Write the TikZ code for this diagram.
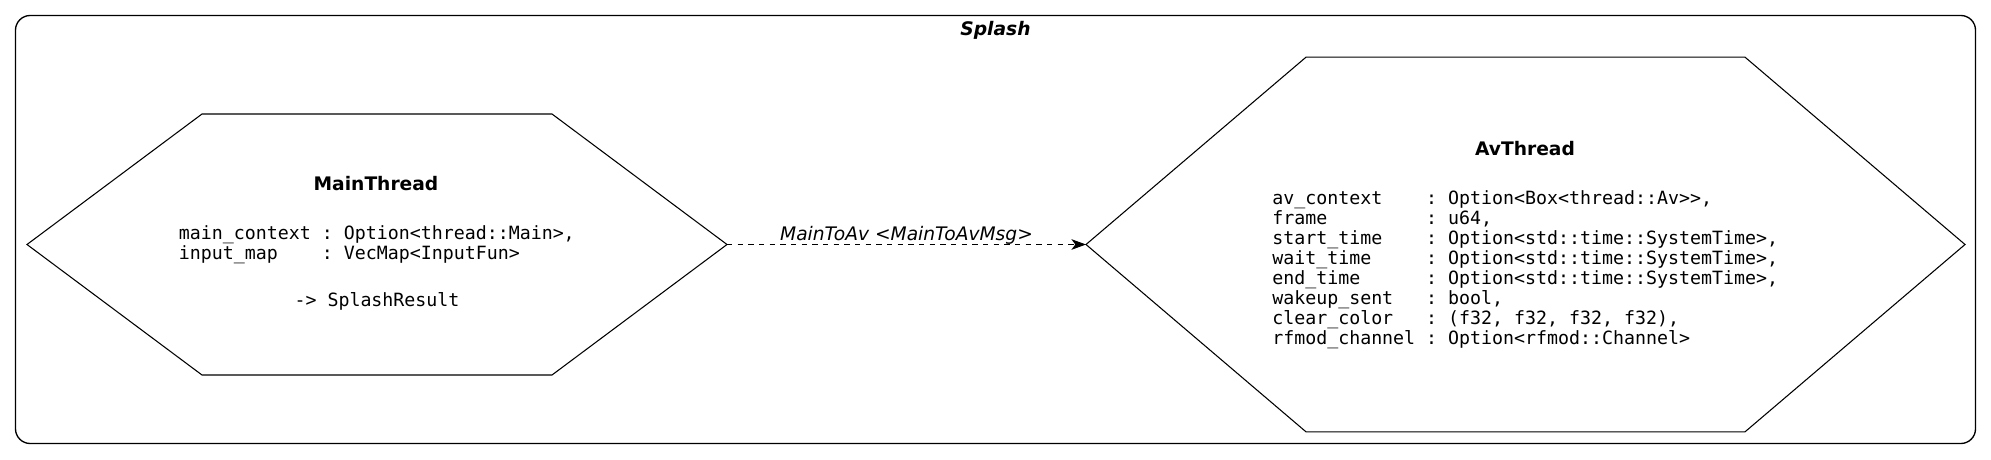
\documentclass[tikz,border=0pt]{standalone}
\usepackage{fontspec}
\setmainfont{DejaVu Sans}
\setmonofont{DejaVu Sans Mono}
\usetikzlibrary{arrows.meta,calc}
\begin{document}
\begin{tikzpicture}[x=0.75pt,y=-0.75pt,font=\fontsize{14}{15}\selectfont]
\tikzset{
  hexbox/.style={draw=none,rectangle,inner sep=0pt,outer sep=0pt},
  hexline/.style={line width=0.8pt,line join=miter},
  framebox/.style={line width=1pt,rounded corners=11pt},
  nametext/.style={inner sep=0pt,anchor=base,font=\fontsize{14}{15}\selectfont\bfseries},
  monotext/.style={inner sep=0pt,font=\fontsize{13.7}{15}\selectfont\ttfamily},
  edgelabel/.style={inner sep=0pt,anchor=base,font=\fontsize{14}{15}\selectfont\itshape},
  msgarrow/.style={line width=0.8pt,dash pattern=on 4pt off 4pt,-{Stealth[length=11pt,width=8pt,inset=3pt]}}
}
\useasboundingbox (0,0) rectangle (1991,460);
% cluster frame
\draw[framebox] (15.5,15.5) rectangle (1975.5,443.5);
\node[nametext,font=\fontsize{14}{15}\selectfont\bfseries\itshape] (splash) at (995.5,35.5) {Splash};
% MainThread hexagon
\node[hexbox,minimum width=525pt,minimum height=195.75pt] (main) at (377,244.5) {};
\draw[hexline] (main.west) -- ($(main.north west)+(175,0)$) -- ($(main.north east)+(-175,0)$) -- (main.east)
  -- ($(main.south east)+(-175,0)$) -- ($(main.south west)+(175,0)$) -- cycle;
\node[nametext] (mainname) at (376,190) {MainThread};
\node[monotext,anchor=west] (mainfields) at (178.6,245) {\begin{tabular}{@{}l@{\ :\ }l@{}}
main\_context & Option<thread::Main>,\\
input\_map & VecMap<InputFun>
\end{tabular}};
\node[monotext,anchor=base] (mainret) at (377,306.5) {-> SplashResult};
% AvThread hexagon
\node[hexbox,minimum width=659.25pt,minimum height=281pt] (av) at (1525.5,244.5) {};
\draw[hexline] (av.west) -- ($(av.north west)+(220,0)$) -- ($(av.north east)+(-220,0)$) -- (av.east)
  -- ($(av.south east)+(-220,0)$) -- ($(av.south west)+(220,0)$) -- cycle;
\node[nametext] (avname) at (1525,155) {AvThread};
\node[monotext,anchor=west] (avfields) at (1272,270) {\begin{tabular}{@{}l@{\ :\ }l@{}}
av\_context & Option<Box<thread::Av>{}>,\\
frame & u64,\\
start\_time & Option<std::time::SystemTime>,\\
wait\_time & Option<std::time::SystemTime>,\\
end\_time & Option<std::time::SystemTime>,\\
wakeup\_sent & bool,\\
clear\_color & (f32, f32, f32, f32),\\
rfmod\_channel & Option<rfmod::Channel>
\end{tabular}};
% connector
\draw[msgarrow] (main.east) -- node[edgelabel,midway,yshift=3pt] (msglabel) {MainToAv <MainToAvMsg>} (av.west);
\end{tikzpicture}
\end{document}
